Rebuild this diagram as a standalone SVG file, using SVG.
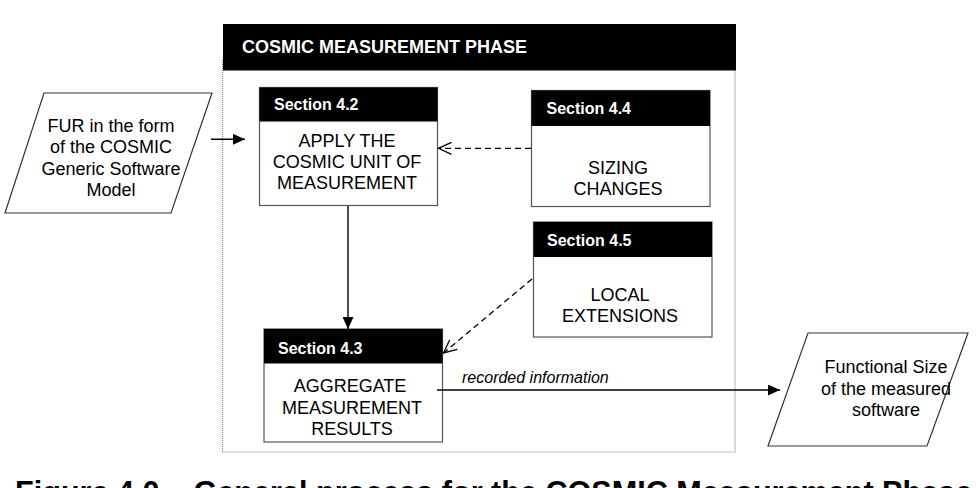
<svg xmlns="http://www.w3.org/2000/svg" width="978" height="488" viewBox="0 0 978 488">
<style>
  .t { font-family: "Liberation Sans", Arial, sans-serif; font-size: 18px; fill: #000; text-anchor: middle; }
  .hd { font-family: "Liberation Sans", Arial, sans-serif; font-size: 16px; font-weight: bold; fill: #fff; }
  .box { fill: #fff; stroke: #555; stroke-width: 1.2; }
  .bar { fill: #000; }
  .para { fill: #fff; stroke: #333; stroke-width: 1.2; }
  .solid { fill: none; stroke: #000; stroke-width: 1.4; }
  .dash { fill: none; stroke: #000; stroke-width: 1.3; stroke-dasharray: 6 4; }
</style>
<defs>
  <marker id="fill" markerUnits="userSpaceOnUse" markerWidth="13" markerHeight="11" refX="12" refY="5.5" orient="auto">
    <path d="M0,0 L12,5.5 L0,11 z" fill="#000"/>
  </marker>
  <marker id="open" markerUnits="userSpaceOnUse" markerWidth="16" markerHeight="16" refX="14" refY="8" orient="auto">
    <path d="M1,2 L14,8 L1,14" fill="none" stroke="#000" stroke-width="1.3"/>
  </marker>
</defs>
<rect width="978" height="488" fill="#fff"/>

<g id="phase">
  <rect x="222.5" y="60" width="512.5" height="392" fill="none" stroke="#888" stroke-width="1.2" stroke-dasharray="1 1"/>
  <rect class="bar" x="223" y="24" width="513" height="46.5"/>
  <text x="242" y="53" font-family="Liberation Sans, Arial, sans-serif" font-size="18" font-weight="bold" fill="#fff">COSMIC MEASUREMENT PHASE</text>
</g>

<g id="input">
  <polygon class="para" points="44,93 212,93 171,213 5,213"/>
  <text class="t" x="111" y="132">FUR in the form</text>
  <text class="t" x="111" y="153.3">of the COSMIC</text>
  <text class="t" x="111" y="174.6">Generic Software</text>
  <text class="t" x="111" y="196">Model</text>
</g>

<g id="s42">
  <rect class="box" x="259.5" y="87.5" width="178" height="118"/>
  <rect class="bar" x="259.5" y="87.5" width="178" height="34"/>
  <text class="hd" x="274" y="110">Section 4.2</text>
  <text class="t" x="347" y="146.7">APPLY THE</text>
  <text class="t" x="347" y="168">COSMIC UNIT OF</text>
  <text class="t" x="347" y="189.3">MEASUREMENT</text>
</g>

<g id="s44">
  <rect class="box" x="531.5" y="90.5" width="178.5" height="116"/>
  <rect class="bar" x="531.5" y="90.5" width="178.5" height="35.5"/>
  <text class="hd" x="546.5" y="114">Section 4.4</text>
  <text class="t" x="618" y="173.5">SIZING</text>
  <text class="t" x="618" y="195">CHANGES</text>
</g>

<g id="s45">
  <rect class="box" x="533.5" y="222" width="178.5" height="115"/>
  <rect class="bar" x="533.5" y="222" width="178.5" height="35"/>
  <text class="hd" x="547" y="246">Section 4.5</text>
  <text class="t" x="620" y="301">LOCAL</text>
  <text class="t" x="620" y="322">EXTENSIONS</text>
</g>

<g id="s43">
  <rect class="box" x="264" y="329" width="178.5" height="113"/>
  <rect class="bar" x="264" y="329" width="178.5" height="34.5"/>
  <text class="hd" x="278" y="354">Section 4.3</text>
  <text class="t" x="350" y="392">AGGREGATE</text>
  <text class="t" x="352" y="413.5">MEASUREMENT</text>
  <text class="t" x="352" y="435">RESULTS</text>
</g>

<g id="output">
  <polygon class="para" points="808,333 968,333 927,446 768,446"/>
  <text class="t" x="886" y="373">Functional Size</text>
  <text class="t" x="886" y="394.5">of the measured</text>
  <text class="t" x="886" y="416">software</text>
</g>

<g id="connectors">
  <line class="solid" x1="211" y1="139.3" x2="245" y2="139.3" marker-end="url(#fill)"/>
  <line class="dash" x1="531" y1="148.3" x2="438.5" y2="148.3" marker-end="url(#open)"/>
  <line class="solid" x1="348" y1="206" x2="348" y2="329" marker-end="url(#fill)"/>
  <line class="dash" x1="532" y1="279" x2="443.5" y2="353" marker-end="url(#open)"/>
  <line class="solid" x1="437" y1="390" x2="780" y2="390" marker-end="url(#fill)"/>
  <text x="462" y="383" font-family="Liberation Sans, Arial, sans-serif" font-size="16" font-style="italic" fill="#000">recorded information</text>
</g>

<text x="15" y="503" font-family="Liberation Sans, Arial, sans-serif" font-size="30.6" font-weight="bold" fill="#000">Figure 4.0 – General process for the COSMIC Measurement Phase</text>
</svg>
